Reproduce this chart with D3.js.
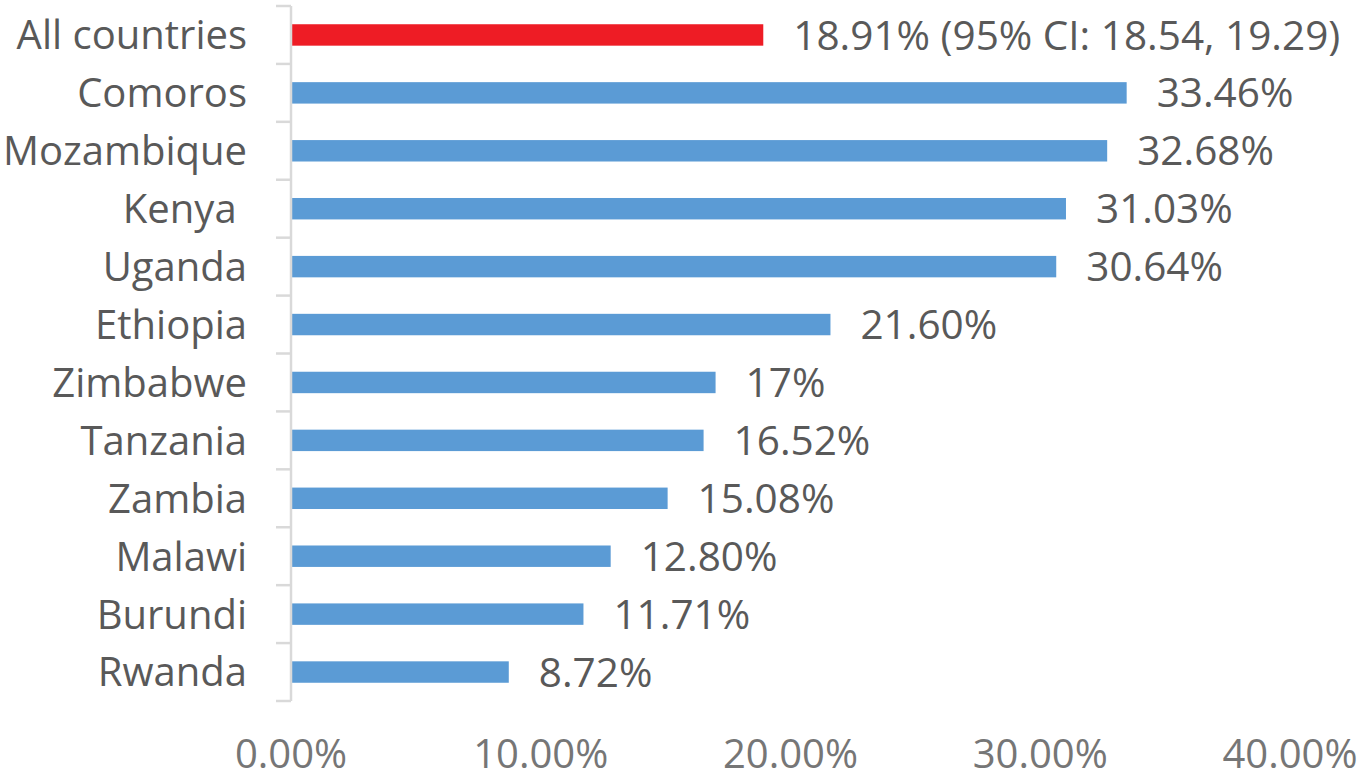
<!DOCTYPE html>
<html><head><meta charset="utf-8">
<script src="https://cdn.jsdelivr.net/npm/d3@7"></script>
<style>body{margin:0;background:#fff;} text{font-family:"Open Sans",sans-serif;}</style>
</head><body><svg id="c" width="1361" height="781"></svg>
<script>
const categories = ["All countries","Comoros","Mozambique","Kenya ","Uganda","Ethiopia","Zimbabwe","Tanzania","Zambia","Malawi","Burundi","Rwanda"];
const values = [18.91,33.46,32.68,31.03,30.64,21.60,17,16.52,15.08,12.80,11.71,8.72];
const valueLabels = ["18.91% (95% CI: 18.54, 19.29)","33.46%","32.68%","31.03%","30.64%","21.60%","17%","16.52%","15.08%","12.80%","11.71%","8.72%"];
const xTicks = [0,10,20,30,40];

const svg = d3.select("#c");
const x = d3.scaleLinear().domain([0,40]).range([291,1290]);
const y = d3.scaleBand().domain(categories).range([6,701]).paddingInner(0.63).paddingOuter(0.315);
const yb = d3.scaleBand().domain(categories).range([6,701]);

// bars
svg.selectAll("rect.bar").data(categories).enter().append("rect")
  .attr("x", x(0)).attr("y", d=>y(d)).attr("height", y.bandwidth())
  .attr("width", (d,i)=>x(values[i])-x(0))
  .attr("fill", (d,i)=> i===0 ? "#ee1c25" : "#5b9bd5");

// y axis line + ticks
const ax = svg.append("g").attr("stroke","#d9d9d9").attr("stroke-width",2.5);
ax.append("line").attr("x1",291).attr("x2",291).attr("y1",6).attr("y2",701);
const bounds = categories.map(c=>yb(c)).concat([701]);
ax.selectAll("line.t").data(bounds).enter().append("line")
  .attr("x1",276).attr("x2",291).attr("y1",d=>d).attr("y2",d=>d);

// category labels
svg.selectAll("text.cat").data(categories).enter().append("text")
  .attr("x",247).attr("y",d=>yb(d)+yb.bandwidth()/2).attr("dy","0.36em")
  .attr("text-anchor","end").attr("font-size",40).attr("fill","#595959")
  .attr("xml:space","preserve").style("white-space","pre")
  .text(d=>d);

// value labels
svg.selectAll("text.val").data(categories).enter().append("text")
  .attr("x",(d,i)=>x(values[i])+30).attr("y",d=>yb(d)+yb.bandwidth()/2).attr("dy","0.36em")
  .attr("font-size",40.5).attr("fill","#595959")
  .text((d,i)=>valueLabels[i]);

// x tick labels
svg.selectAll("text.xt").data(xTicks).enter().append("text")
  .attr("x",d=>x(d)).attr("y",754).attr("dy","0.36em").attr("text-anchor","middle")
  .attr("font-size",40).attr("fill","#767676")
  .text(d=>d3.format(".2f")(d)+"%");
</script></body></html>
